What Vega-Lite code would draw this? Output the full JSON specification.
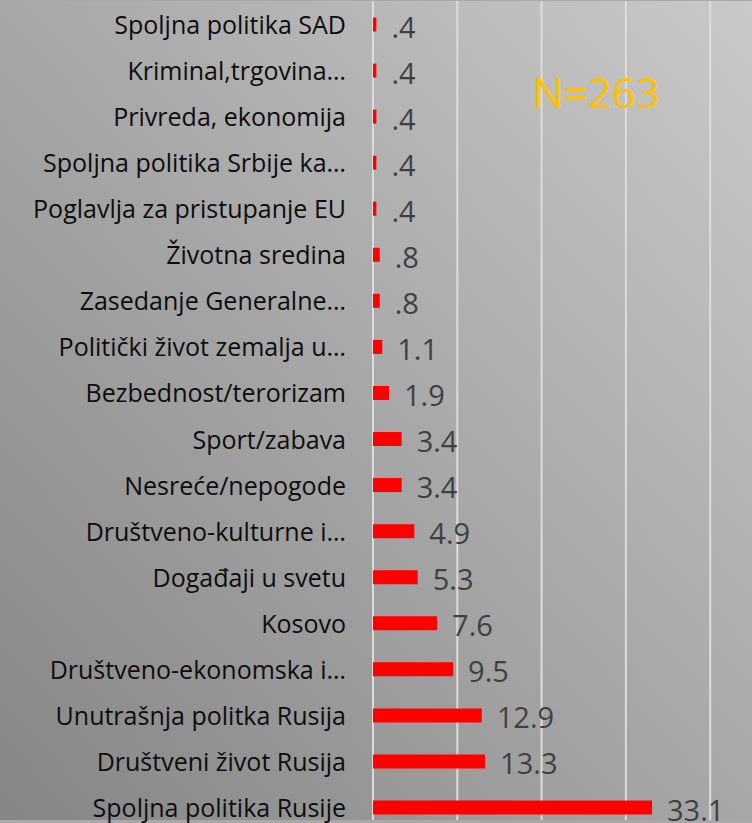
{
  "$schema": "https://vega.github.io/schema/vega-lite/v6.json",
  "width": 752,
  "height": 823,
  "autosize": {"type": "fit", "contains": "padding"},
  "padding": 0,
  "background": "#a8a8a8",
  "config": {"view": {"stroke": null}},
  "datasets": {
    "bars": [
      {"cat": "Spoljna politika SAD", "v": 0.4},
      {"cat": "Kriminal,trgovina…", "v": 0.4},
      {"cat": "Privreda, ekonomija", "v": 0.4},
      {"cat": "Spoljna politika Srbije ka…", "v": 0.4},
      {"cat": "Poglavlja za pristupanje EU", "v": 0.4},
      {"cat": "Životna sredina", "v": 0.8},
      {"cat": "Zasedanje Generalne…", "v": 0.8},
      {"cat": "Politički život zemalja u…", "v": 1.1},
      {"cat": "Bezbednost/terorizam", "v": 1.9},
      {"cat": "Sport/zabava", "v": 3.4},
      {"cat": "Nesreće/nepogode", "v": 3.4},
      {"cat": "Društveno-kulturne i…", "v": 4.9},
      {"cat": "Događaji u svetu", "v": 5.3},
      {"cat": "Kosovo", "v": 7.6},
      {"cat": "Društveno-ekonomska i…", "v": 9.5},
      {"cat": "Unutrašnja politka Rusija", "v": 12.9},
      {"cat": "Društveni život Rusija", "v": 13.3},
      {"cat": "Spoljna politika Rusije", "v": 33.1}
    ],
    "grid": [{"g": 0}, {"g": 10}, {"g": 20}, {"g": 30}, {"g": 40}]
  },
  "layer": [
    {
      "data": {"values": [{}]},
      "mark": {
        "type": "rect",
        "color": {
          "gradient": "linear",
          "x1": 0, "y1": 1, "x2": 1, "y2": 0,
          "stops": [
            {"offset": 0, "color": "#858585"},
            {"offset": 1, "color": "#c9c9c9"}
          ]
        }
      },
      "encoding": {}
    },
    {
      "data": {"name": "grid"},
      "mark": {"type": "rule", "color": "#dcdcdc", "strokeWidth": 2},
      "encoding": {
        "x": {"field": "g", "type": "quantitative", "scale": {"domain": [-44.25, 44.96], "nice": false, "zero": false}, "axis": null}
      }
    },
    {
      "data": {"name": "bars"},
      "transform": [
        {"calculate": "datum.v < 1 ? slice(format(datum.v, '.1f'), 1) : format(datum.v, '.1f')", "as": "lbl"}
      ],
      "encoding": {
        "y": {"field": "cat", "type": "nominal", "sort": null, "scale": {"type": "point", "padding": 0, "range": [23.5, 806.5]}, "axis": null}
      },
      "layer": [
        {
          "mark": {"type": "bar", "color": "#ff0000", "size": 14},
          "encoding": {
            "x": {"field": "v", "type": "quantitative", "axis": null}
          }
        },
        {
          "mark": {"type": "text", "align": "right", "baseline": "alphabetic", "dx": -27, "dy": 9.5, "font": "Open Sans", "fontSize": 25, "color": "#0d0d0d"},
          "encoding": {
            "x": {"datum": 0, "type": "quantitative"},
            "text": {"field": "cat"}
          }
        },
        {
          "mark": {"type": "text", "align": "left", "baseline": "alphabetic", "dx": 15, "dy": 13, "font": "Open Sans", "fontSize": 29, "color": "#404040"},
          "encoding": {
            "x": {"field": "v", "type": "quantitative"},
            "text": {"field": "lbl"}
          }
        }
      ]
    },
    {
      "data": {"values": [{"t": "N=263"}]},
      "mark": {"type": "text", "align": "center", "baseline": "alphabetic", "dy": 37.5, "font": "Open Sans", "fontSize": 42, "color": "#ffc000"},
      "encoding": {
        "x": {"datum": 26.45, "type": "quantitative"},
        "y": {"datum": "Kriminal,trgovina…", "type": "nominal"},
        "text": {"field": "t"}
      }
    }
  ]
}
